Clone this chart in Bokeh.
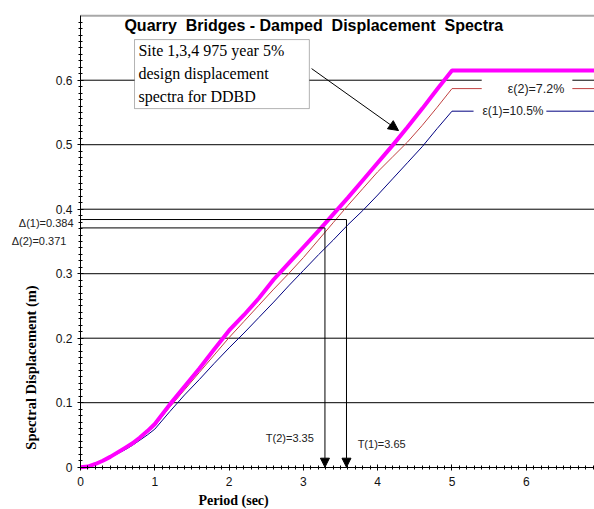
import math
from bokeh.plotting import figure
from bokeh.models import (Range1d, Label, BoxAnnotation, Arrow, NormalHead, LinearAxis,
                          SingleIntervalTicker, CustomJSTickFormatter)
from bokeh.embed import file_html
from bokeh.resources import INLINE

# ---------------- data ----------------
period = [0.0, 0.1, 0.2, 0.3, 0.4, 0.5, 0.6, 0.7, 0.8, 0.9, 1.0, 1.2, 1.4, 1.6, 1.8,
          2.0, 2.2, 2.4, 2.6, 2.8, 3.0, 3.2, 3.4, 3.6, 3.8, 4.0, 4.2, 4.4, 4.6, 4.8,
          5.0, 7.0]
sd_5pct = [0.0, 0.001, 0.005, 0.010, 0.016, 0.023, 0.030, 0.037, 0.046, 0.056, 0.067,
           0.097, 0.125, 0.153, 0.183, 0.212, 0.236, 0.262, 0.291, 0.316, 0.341, 0.366,
           0.392, 0.418, 0.445, 0.472, 0.499, 0.527, 0.556, 0.586, 0.615, 0.615]
sd_7_2pct = [0.0, 0.001, 0.005, 0.010, 0.016, 0.022, 0.029, 0.036, 0.045, 0.054, 0.064,
             0.093, 0.120, 0.147, 0.174, 0.201, 0.226, 0.251, 0.276, 0.300, 0.325, 0.352,
             0.379, 0.406, 0.432, 0.458, 0.481, 0.504, 0.530, 0.558, 0.587, 0.587]
sd_10_5pct = [0.0, 0.001, 0.004, 0.009, 0.015, 0.021, 0.027, 0.034, 0.042, 0.050, 0.059,
              0.086, 0.112, 0.136, 0.161, 0.185, 0.208, 0.232, 0.256, 0.281, 0.305, 0.329,
              0.352, 0.376, 0.398, 0.422, 0.447, 0.472, 0.497, 0.525, 0.552, 0.552]

delta_values = [0.384, 0.371]          # Δ(1), Δ(2)
period_marks = [3.58, 3.29]            # where the drawn arrows meet the period axis
delta_labels = ["Δ(1)=0.384", "Δ(2)=0.371"]
period_labels = ["T(1)=3.65", "T(2)=3.35"]
damping_labels = ["ε(2)=7.2%", "ε(1)=10.5%"]
grid_levels = [0.1, 0.2, 0.3, 0.4, 0.5, 0.6]
y_top = 0.7

NB = "\u00a0"
title_text = f"Quarry{NB}{NB}Bridges - Damped{NB}{NB}Displacement{NB}{NB}Spectra"
note_text = "Site 1,3,4 975 year 5%\ndesign displacement\nspectra for DDBD"

SANS = "Liberation Sans"
SERIF = "Liberation Serif"

X_MIN, X_MAX = -1.077, 6.918
Y_MIN, Y_MAX = -0.0656, 0.7236

p = figure(width=594, height=509, x_range=Range1d(X_MIN, X_MAX), y_range=Range1d(Y_MIN, Y_MAX),
           output_backend="svg", toolbar_location=None, x_axis_type=None, y_axis_type=None,
           min_border_left=0, min_border_right=0, min_border_top=0, min_border_bottom=0)
p.outline_line_color = None
p.background_fill_color = "white"
p.grid.visible = False

# axes fixed at the origin
xaxis = LinearAxis(fixed_location=0, bounds=(0, X_MAX),
                   ticker=SingleIntervalTicker(interval=1, num_minor_ticks=10))
yaxis = LinearAxis(fixed_location=0, bounds=(0, y_top),
                   ticker=SingleIntervalTicker(interval=0.1, num_minor_ticks=10),
                   formatter=CustomJSTickFormatter(
                       code="return Math.abs(tick) < 1e-9 ? '0' : tick.toFixed(1);"))
for ax in (xaxis, yaxis):
    ax.axis_line_color = "black"
    ax.major_tick_line_color = "black"
    ax.minor_tick_line_color = "black"
    ax.major_tick_in = 3
    ax.major_tick_out = 3
    ax.minor_tick_in = 2
    ax.minor_tick_out = 2
    ax.major_label_text_font = SANS
    ax.major_label_text_font_size = "12px"
    ax.major_label_text_color = "#111111"
xaxis.major_label_standoff = 7
yaxis.major_label_standoff = 5
p.add_layout(xaxis, "below")
p.add_layout(yaxis, "left")

# horizontal grid lines and top border of the plot area
p.segment(x0=0, x1=X_MAX, y0=grid_levels, y1=grid_levels, line_color="black", line_width=1)
p.segment(x0=0, x1=X_MAX, y0=y_top, y1=y_top, line_color="#A8A8A8", line_width=2)

# spectra
p.line(period, sd_10_5pct, line_color="#000080", line_width=1)
p.line(period, sd_7_2pct, line_color="#C04040", line_width=1)
p.line(period, sd_5pct, line_color="#FF00FF", line_width=4)

# Δ / T construction lines
for d, t in zip(delta_values, period_marks):
    p.segment(x0=0, y0=d, x1=t, y1=d, line_color="black", line_width=1)
    p.add_layout(Arrow(end=NormalHead(size=9, fill_color="black", line_color="black"),
                       x_start=t, y_start=d, x_end=t, y_end=0,
                       line_color="black", line_width=1))

# white boxes behind damping labels
p.add_layout(BoxAnnotation(left=5.40, right=6.62, top=0.604, bottom=0.571,
                           fill_color="white", fill_alpha=1, line_color=None))
p.add_layout(BoxAnnotation(left=5.29, right=6.27, top=0.567, bottom=0.536,
                           fill_color="white", fill_alpha=1, line_color=None))
p.add_layout(Label(x=5.75, y=sd_7_2pct[-1], text=damping_labels[0], text_font=SANS,
                   text_font_size="12.5px", text_align="left", text_baseline="middle",
                   text_color="#222222"))
p.add_layout(Label(x=5.41, y=sd_10_5pct[-1], text=damping_labels[1], text_font=SANS,
                   text_font_size="12px", text_align="left", text_baseline="middle",
                   text_color="#222222"))

# note box + arrow
p.add_layout(BoxAnnotation(left=0.727, right=3.08, top=0.663, bottom=0.556,
                           fill_color="white", fill_alpha=1, line_color="black", line_width=1))
p.add_layout(Label(x=0.78, y=0.6585, text=note_text, text_font=SERIF, text_font_size="16px",
                   text_align="left", text_baseline="top", text_line_height=1.35,
                   text_color="black"))
p.add_layout(Arrow(end=NormalHead(size=10, fill_color="black", line_color="black"),
                   x_start=3.11, y_start=0.618, x_end=4.28, y_end=0.522,
                   line_color="black", line_width=1))

# title
p.add_layout(Label(x=3.14, y=0.685, text=title_text, text_font=SANS, text_font_size="16px",
                   text_font_style="bold", text_align="center", text_baseline="middle",
                   text_color="black"))

# Δ labels (left of axis)
p.add_layout(Label(x=-0.094, y=0.379, text=delta_labels[0], text_font=SANS,
                   text_font_size="11px", text_align="right", text_baseline="middle",
                   text_color="#222222"))
p.add_layout(Label(x=-0.19, y=0.350, text=delta_labels[1], text_font=SANS,
                   text_font_size="11px", text_align="right", text_baseline="middle",
                   text_color="#222222"))

# T labels
p.add_layout(Label(x=3.73, y=0.0367, text=period_labels[0], text_font=SANS,
                   text_font_size="11px", text_align="left", text_baseline="middle",
                   text_color="#222222"))
p.add_layout(Label(x=3.14, y=0.046, text=period_labels[1], text_font=SANS,
                   text_font_size="11px", text_align="right", text_baseline="middle",
                   text_color="#222222"))

# axis titles
p.add_layout(Label(x=-0.67, y=0.1546, text="Spectral Displacement (m)", angle=math.pi / 2,
                   text_font=SERIF, text_font_size="14.5px", text_font_style="bold",
                   text_align="center", text_baseline="middle", text_color="black"))
p.add_layout(Label(x=2.06, y=-0.0516, text="Period (sec)", text_font=SERIF,
                   text_font_size="14px", text_font_style="bold",
                   text_align="center", text_baseline="middle", text_color="black"))

open("out.html", "w").write(file_html(p, INLINE))
